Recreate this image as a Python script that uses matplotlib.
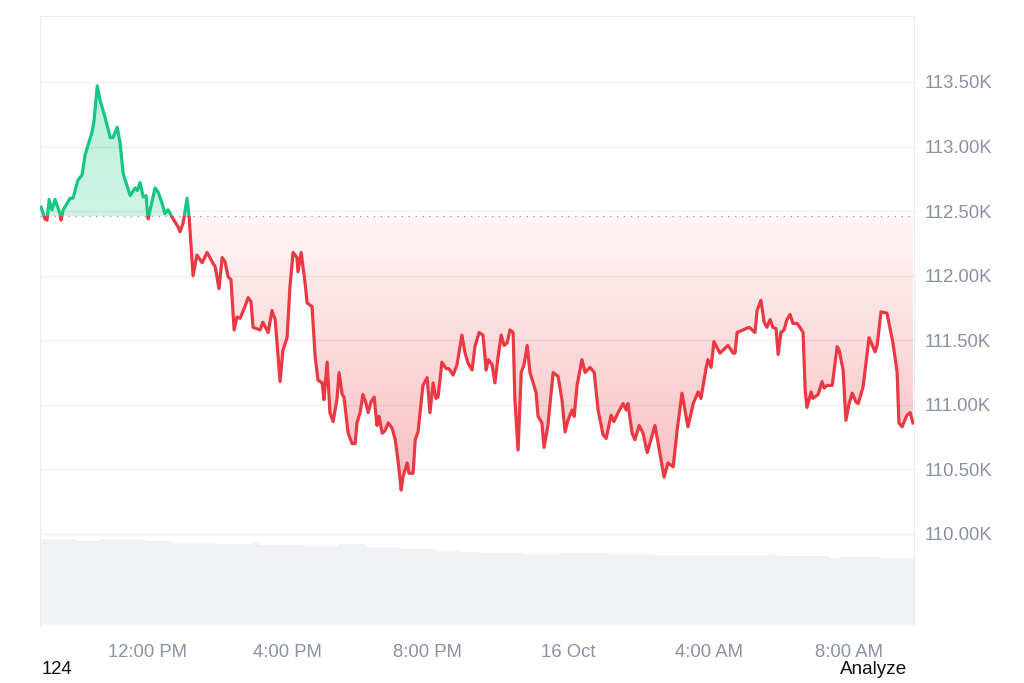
import numpy as np
import matplotlib.pyplot as plt
from matplotlib.path import Path
from matplotlib.patches import Rectangle

plt.rcParams['font.family'] = ['Liberation Sans', 'DejaVu Sans']

# hours relative to 12:00 PM (15 Oct), price in thousands USD
hours = [-3.02, -2.91, -2.85, -2.79, -2.71, -2.62, -2.48, -2.45, -2.39, -2.19,
         -2.11, -1.97, -1.85, -1.77, -1.57, -1.51, -1.42, -1.34, -1.20, -1.05,
         -0.97, -0.85, -0.77, -0.68, -0.48, -0.34, -0.28, -0.20, -0.11, -0.03,
         0.03, 0.14, 0.23, 0.31, 0.43, 0.51, 0.60, 0.74, 0.88, 0.94,
         1.03, 1.14, 1.20, 1.31, 1.42, 1.57, 1.71, 1.85, 1.94, 2.05,
         2.14, 2.22, 2.31, 2.39, 2.48, 2.56, 2.65, 2.79, 2.88, 2.96,
         3.02, 3.22, 3.30, 3.45, 3.56, 3.65, 3.79, 3.87, 3.99, 4.07,
         4.16, 4.27, 4.30, 4.39, 4.50, 4.56, 4.70, 4.79, 4.87, 4.99,
         5.04, 5.13, 5.21, 5.30, 5.41, 5.47, 5.56, 5.61, 5.73, 5.84,
         5.93, 5.98, 6.07, 6.15, 6.24, 6.30, 6.38, 6.47, 6.55, 6.61,
         6.70, 6.78, 6.87, 6.98, 7.07, 7.15, 7.24, 7.29, 7.41, 7.46,
         7.58, 7.64, 7.72, 7.86, 7.98, 8.06, 8.15, 8.23, 8.29, 8.40,
         8.52, 8.60, 8.72, 8.83, 8.97, 9.06, 9.15, 9.26, 9.34, 9.46,
         9.57, 9.66, 9.72, 9.83, 9.91, 10.00, 10.09, 10.17, 10.26, 10.34,
         10.43, 10.48, 10.57, 10.66, 10.74, 10.83, 10.91, 11.00, 11.08, 11.14,
         11.25, 11.31, 11.42, 11.57, 11.71, 11.82, 11.91, 11.99, 12.11, 12.17,
         12.25, 12.39, 12.48, 12.62, 12.74, 12.85, 12.99, 13.08, 13.22, 13.30,
         13.42, 13.56, 13.65, 13.70, 13.82, 13.90, 14.02, 14.13, 14.25, 14.47,
         14.62, 14.73, 14.84, 14.99, 15.10, 15.24, 15.41, 15.56, 15.70, 15.78,
         15.93, 15.98, 16.07, 16.15, 16.32, 16.55, 16.70, 16.75, 16.81, 16.98,
         17.15, 17.24, 17.32, 17.38, 17.49, 17.58, 17.66, 17.75, 17.83, 17.92,
         17.98, 18.06, 18.15, 18.23, 18.32, 18.40, 18.52, 18.60, 18.69, 18.75,
         18.80, 18.92, 18.97, 19.12, 19.23, 19.29, 19.37, 19.52, 19.66, 19.72,
         19.83, 19.91, 20.00, 20.09, 20.20, 20.26, 20.40, 20.57, 20.74, 20.80,
         20.91, 21.08, 21.25, 21.37, 21.42, 21.51, 21.65, 21.74, 21.82]
price = [112.53, 112.44, 112.43, 112.59, 112.51, 112.59, 112.48, 112.43, 112.51, 112.60,
         112.60, 112.74, 112.78, 112.93, 113.11, 113.20, 113.47, 113.36, 113.23, 113.07,
         113.07, 113.15, 113.03, 112.79, 112.62, 112.68, 112.66, 112.72, 112.61, 112.62,
         112.44, 112.57, 112.68, 112.65, 112.56, 112.48, 112.51, 112.44, 112.38, 112.34,
         112.41, 112.60, 112.45, 112.00, 112.16, 112.10, 112.18, 112.11, 112.07, 111.90,
         112.14, 112.11, 111.99, 111.97, 111.58, 111.68, 111.67, 111.76, 111.83, 111.80,
         111.60, 111.58, 111.64, 111.56, 111.73, 111.66, 111.18, 111.42, 111.52, 111.91,
         112.18, 112.14, 112.03, 112.18, 111.95, 111.79, 111.76, 111.37, 111.19, 111.17,
         111.04, 111.33, 110.94, 110.87, 111.04, 111.25, 111.08, 111.06, 110.78, 110.70,
         110.70, 110.86, 110.94, 111.08, 111.01, 110.94, 111.02, 111.06, 110.84, 110.91,
         110.78, 110.80, 110.86, 110.82, 110.73, 110.57, 110.34, 110.44, 110.55, 110.47,
         110.47, 110.73, 110.79, 111.15, 111.21, 110.94, 111.17, 111.05, 111.06, 111.33,
         111.28, 111.28, 111.23, 111.31, 111.54, 111.40, 111.32, 111.27, 111.45, 111.56,
         111.54, 111.27, 111.35, 111.31, 111.17, 111.37, 111.54, 111.46, 111.48, 111.58,
         111.56, 111.04, 110.65, 111.25, 111.31, 111.46, 111.25, 111.17, 111.10, 110.91,
         110.86, 110.67, 110.84, 111.25, 111.22, 111.04, 110.79, 110.88, 110.96, 110.91,
         111.15, 111.35, 111.25, 111.29, 111.25, 110.96, 110.77, 110.74, 110.92, 110.87,
         110.94, 111.01, 110.96, 111.01, 110.78, 110.73, 110.84, 110.78, 110.63, 110.84,
         110.61, 110.44, 110.55, 110.52, 110.80, 111.09, 110.83, 111.01, 111.10, 111.05,
         111.29, 111.35, 111.29, 111.49, 111.40, 111.46, 111.40, 111.40, 111.56, 111.58,
         111.60, 111.58, 111.56, 111.73, 111.81, 111.64, 111.60, 111.66, 111.60, 111.59,
         111.39, 111.56, 111.58, 111.66, 111.70, 111.63, 111.63, 111.60, 111.56, 111.11,
         110.98, 111.10, 111.05, 111.08, 111.18, 111.13, 111.15, 111.15, 111.45, 111.42,
         111.27, 110.88, 111.01, 111.09, 111.02, 111.01, 111.14, 111.52, 111.41, 111.46,
         111.72, 111.71, 111.48, 111.25, 110.86, 110.83, 110.92, 110.94, 110.86]
baseline = 112.46

# volume, 15 minute bars starting 9:00 AM (arbitrary units)
volume = [8.57, 8.57, 8.57, 8.57, 8.40, 8.40, 8.40, 8.57, 8.57, 8.57,
          8.57, 8.57, 8.43, 8.43, 8.43, 8.23, 8.23, 8.23, 8.23, 8.23,
          8.10, 8.10, 8.10, 8.10, 8.23, 8.00, 8.00, 8.00, 8.00, 8.00,
          7.90, 7.90, 7.90, 7.90, 8.07, 8.07, 8.07, 7.83, 7.83, 7.83,
          7.83, 7.57, 7.57, 7.57, 7.57, 7.45, 7.40, 7.40, 7.35, 7.30,
          7.17, 7.17, 7.17, 7.17, 7.17, 7.10, 7.10, 7.10, 7.10, 7.23,
          7.23, 7.23, 7.23, 7.23, 7.23, 7.10, 7.10, 7.10, 7.10, 7.10,
          6.97, 6.97, 6.97, 6.97, 6.97, 6.97, 6.97, 6.97, 6.97, 6.97,
          6.97, 6.97, 6.97, 7.10, 6.90, 6.90, 6.90, 6.90, 6.90, 6.90,
          6.70, 6.83, 6.83, 6.83, 6.83, 6.83, 6.73, 6.73, 6.73, 6.73]
vol_hours = -3.05 + 0.25 * np.arange(len(volume))

tick_pos = [0, 4, 8, 12, 16, 20]
tick_labels = ['12:00 PM', '4:00 PM', '8:00 PM', '16 Oct', '4:00 AM', '8:00 AM']
y_ticks = [110.0, 110.5, 111.0, 111.5, 112.0, 112.5, 113.0, 113.5]

green = '#16c784'
red = '#ea3943'
grey_txt = '#8a91a0'
x0, x1 = -3.05, 21.85
y0, y1 = 109.295, 114.011

hours = np.array(hours)
price = np.array(price)

fig = plt.figure(figsize=(10.24, 6.83), dpi=100)
rect = [40 / 1024, 58 / 683, 874 / 1024, 609 / 683]
ax_vol = fig.add_axes(rect)
ax = fig.add_axes(rect)
ax.patch.set_visible(False)

# volume bars
ax_vol.bar(vol_hours, volume, width=0.25, color='#f0f2f5', align='edge', linewidth=0)
ax_vol.set_xlim(x0, x1)
ax_vol.set_ylim(0, 60.9)
ax_vol.axis('off')

# grid
for v in y_ticks:
    ax.axhline(v, color='#efefef', lw=1, zorder=0)


def gradient_fill(poly, color, a_top, a_bot, top, bot):
    grad = np.zeros((256, 1, 4))
    grad[:, :, :3] = plt.matplotlib.colors.to_rgb(color)
    grad[:, 0, 3] = np.linspace(a_top, a_bot, 256)
    im = ax.imshow(grad, aspect='auto', origin='upper',
                   extent=[x0, x1, bot, top], zorder=2, interpolation='bilinear')
    path = Path.make_compound_path(*poly.get_paths())
    im.set_clip_path(path, transform=ax.transData)


up = ax.fill_between(hours, price, baseline, where=price >= baseline,
                     interpolate=True, facecolor='none', edgecolor='none')
down = ax.fill_between(hours, price, baseline, where=price <= baseline,
                       interpolate=True, facecolor='none', edgecolor='none')
gradient_fill(up, green, 0.30, 0.20, price.max(), baseline)
gradient_fill(down, red, 0.05, 0.33, baseline, price.min())

# line split at the baseline
ln_up, = ax.plot(hours, price, color=green, lw=2.3, zorder=4, solid_joinstyle='round')
ln_up.set_clip_path(Rectangle((x0, baseline), x1 - x0, 10, transform=ax.transData))
ln_dn, = ax.plot(hours, price, color=red, lw=2.3, zorder=4, solid_joinstyle='round')
ln_dn.set_clip_path(Rectangle((x0, baseline - 10), x1 - x0, 10, transform=ax.transData))

ax.axhline(baseline, color='#9aa0ab', lw=1, linestyle=(0, (1, 4)), zorder=3)

ax.set_xlim(x0, x1)
ax.set_ylim(y0, y1)
ax.yaxis.tick_right()
ax.set_yticks(y_ticks)
ax.set_yticklabels([f'{v:.2f}K' for v in y_ticks])
ax.set_xticks(tick_pos)
ax.set_xticklabels(tick_labels)
ax.tick_params(axis='y', length=0, pad=8, labelsize=13.3, labelcolor=grey_txt)
ax.tick_params(axis='x', length=0, pad=14, labelsize=13.3, labelcolor=grey_txt)
for s in ['left', 'right', 'top']:
    ax.spines[s].set_color('#ebebeb')
ax.spines['bottom'].set_visible(False)

fig.text(42 / 1024, 1 - 670 / 683, '124', fontsize=13.3, color='#111111', va='center')
fig.text(907 / 1024, 1 - 670 / 683, 'Analyze', fontsize=13.6, color='#111111',
         va='center', ha='right')

fig.savefig('out.png', dpi=100)
